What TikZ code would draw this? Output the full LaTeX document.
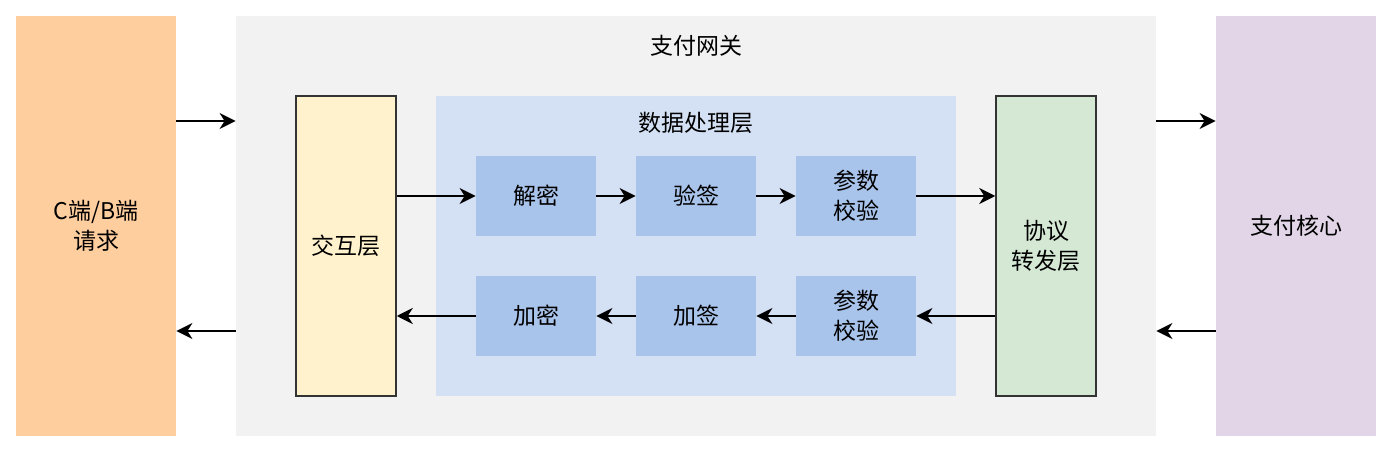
\documentclass[tikz,border=0pt]{standalone}
\usepackage{fontspec}
\setmainfont{Noto Sans CJK SC}
\usepackage{xcolor}
\usetikzlibrary{positioning,calc,arrows.meta}

\definecolor{clientfill}{HTML}{FFCE9F}
\definecolor{gwfill}{HTML}{F2F2F2}
\definecolor{corefill}{HTML}{E1D5E7}
\definecolor{interfill}{HTML}{FFF2CC}
\definecolor{datafill}{HTML}{D4E1F5}
\definecolor{stepfill}{HTML}{A9C4EB}
\definecolor{fwdfill}{HTML}{D5E8D4}
\definecolor{edge}{HTML}{333333}

\begin{document}
\begin{tikzpicture}[x=0.5pt,y=-0.5pt,font=\fontsize{11.5pt}{15pt}\selectfont,
    outer/.style={rectangle,minimum width=80pt,minimum height=210pt,align=center,inner sep=0pt},
    layer/.style={rectangle,draw=edge,line width=0.75pt,minimum width=50pt,minimum height=150pt,align=center,inner sep=0pt},
    stepbox/.style={rectangle,fill=stepfill,minimum width=60pt,minimum height=40pt,align=center,inner sep=0pt},
    flow/.style={-{Stealth[length=8pt,width=8pt,inset=2.5pt]},line width=1pt}]
    \useasboundingbox (0,0) rectangle (1394,454);

    % Outer blocks
    \node[outer,fill=clientfill] (client) at (96,226) {C端/B端\\请求};
    \node[outer,fill=gwfill,minimum width=460pt] (gw) at (696,226) {};
    \node (gwtitle) at (696,46) {支付网关};
    \node[outer,fill=corefill] (core) at (1296,226) {支付核心};

    % Layers in the gateway
    \node[layer,fill=interfill] (inter) at (346,246) {交互层};
    \node[rectangle,fill=datafill,minimum width=260pt,minimum height=150pt] (data) at (696,246) {};
    \node (datatitle) at (696,123) {数据处理层};
    \node[layer,fill=fwdfill] (fwd) at (1046,246) {协议\\转发层};

    % Request path
    \node[stepbox] (dec) at (536,196) {解密};
    \node[stepbox] (verify) at (696,196) {验签};
    \node[stepbox] (checkin) at (856,196) {参数\\校验};

    % Response path
    \node[stepbox] (enc) at (536,316) {加密};
    \node[stepbox] (sign) at (696,316) {加签};
    \node[stepbox] (checkout) at (856,316) {参数\\校验};

    % Arrows
    \draw[flow] (client.east |- 0,121) -- (gw.west |- 0,121);
    \draw[flow] (gw.west |- 0,331) -- (client.east |- 0,331);
    \draw[flow] (gw.east |- 0,121) -- (core.west |- 0,121);
    \draw[flow] (core.west |- 0,331) -- (gw.east |- 0,331);

    \draw[flow] (inter.east |- dec.west) -- (dec.west);
    \draw[flow] (dec) -- (verify);
    \draw[flow] (verify) -- (checkin);
    \draw[flow] (checkin.east) -- (fwd.west |- checkin.east);

    \draw[flow] (fwd.west |- checkout.east) -- (checkout.east);
    \draw[flow] (checkout) -- (sign);
    \draw[flow] (sign) -- (enc);
    \draw[flow] (enc.west) -- (inter.east |- enc.west);
\end{tikzpicture}
\end{document}
